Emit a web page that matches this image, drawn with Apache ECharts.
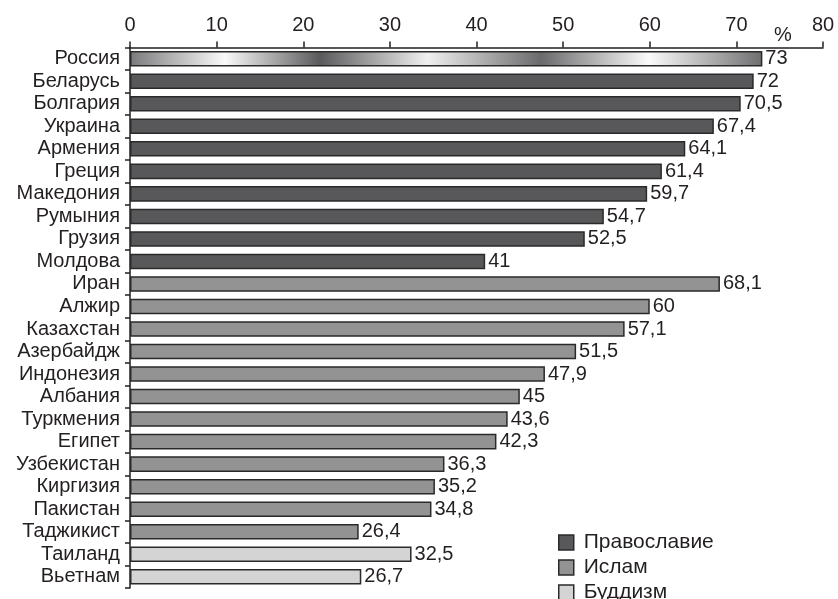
<!DOCTYPE html>
<html>
<head>
<meta charset="utf-8">
<style>html,body{margin:0;padding:0;background:#fff;}#c{width:838px;height:599px;}</style>
<script src="https://cdn.jsdelivr.net/npm/echarts@6/dist/echarts.min.js"></script>
</head>
<body>
<div id="c"></div>
<script>
const categories = ['Россия','Беларусь','Болгария','Украина','Армения','Греция','Македония','Румыния','Грузия','Молдова','Иран','Алжир','Казахстан','Азербайдж','Индонезия','Албания','Туркмения','Египет','Узбекистан','Киргизия','Пакистан','Таджикист','Таиланд','Вьетнам'];
const orthodoxValues = [73,72,70.5,67.4,64.1,61.4,59.7,54.7,52.5,41,null,null,null,null,null,null,null,null,null,null,null,null,null,null];
const islamValues = [null,null,null,null,null,null,null,null,null,null,68.1,60,57.1,51.5,47.9,45,43.6,42.3,36.3,35.2,34.8,26.4,null,null];
const buddhismValues = [null,null,null,null,null,null,null,null,null,null,null,null,null,null,null,null,null,null,null,null,null,null,32.5,26.7];
const seriesNames = ['Православие','Ислам','Буддизм'];
const xTicks = [0,10,20,30,40,50,60,70,80];

const FONT = '"Liberation Sans", Arial, sans-serif';
const TXT = '#231f20';
const colors = ['#58585a','#939393','#d4d4d4'];

const russiaGradient = new echarts.graphic.LinearGradient(0,0,1,0,[
  {offset:0, color:'#7a7a7c'},
  {offset:0.15, color:'#fafafa'},
  {offset:0.30, color:'#5a5a5c'},
  {offset:0.47, color:'#f0f0f0'},
  {offset:0.65, color:'#6a6a6c'},
  {offset:0.82, color:'#fbfbfb'},
  {offset:1, color:'#6e6e70'}
]);

function mk(name, vals, color){
  return {
    name: name,
    type: 'bar',
    stack: 'all',
    barWidth: '69%',
    data: vals.map((v,i)=>{
      if (v === null) return '-';
      if (name === 'Православие' && i === 0) return {value:v, itemStyle:{color:russiaGradient}};
      return v;
    }),
    itemStyle: {color: color, borderColor:'#2a2a2a', borderWidth:1.5},
    label: {
      show: true, position: 'right', distance: 3,
      fontFamily: FONT, fontSize: 20, color: TXT,
      formatter: p => String(p.value).replace('.', ',')
    },
    emphasis: {disabled: true}
  };
}

const chart = echarts.init(document.getElementById('c'), null, {renderer:'canvas'});
chart.setOption({
  animation: false,
  grid: {left:130, right:15, top:47.5, bottom:11, containLabel:false},
  xAxis: {
    type:'value', position:'top', min:0, max:80, interval:10,
    axisLine:{show:true, lineStyle:{color:TXT, width:1.5}},
    axisTick:{show:true, inside:false, length:6, lineStyle:{color:TXT, width:1.5}},
    axisLabel:{fontFamily:FONT, fontSize:20, color:TXT, margin:12,
      formatter: v => xTicks.indexOf(v) >= 0 ? String(v) : ''},
    splitLine:{show:false}
  },
  yAxis: {
    type:'category', inverse:true, data:categories,
    axisLine:{show:true, lineStyle:{color:TXT, width:1.5}},
    axisTick:{show:true, length:5, interval:0, lineStyle:{color:TXT, width:1.5}},
    axisLabel:{fontFamily:FONT, fontSize:20, color:TXT, margin:10, interval:0}
  },
  legend: {
    orient:'vertical', left:558, top:532, height:120, padding:0,
    itemWidth:15, itemHeight:15, itemGap:4, icon:'rect',
    itemStyle:{borderColor:'#2a2a2a', borderWidth:1.5},
    textStyle:{fontFamily:FONT, fontSize:21, color:TXT, padding:[0,0,0,5]},
    data: seriesNames,
    selectedMode:false
  },
  graphic: [{
    type:'text', left:774, top:25,
    style:{text:'%', font:'20px "Liberation Sans", Arial, sans-serif', fill:TXT}
  }],
  series: [
    mk(seriesNames[0], orthodoxValues, colors[0]),
    mk(seriesNames[1], islamValues, colors[1]),
    mk(seriesNames[2], buddhismValues, colors[2])
  ]
});
</script>
</body>
</html>
